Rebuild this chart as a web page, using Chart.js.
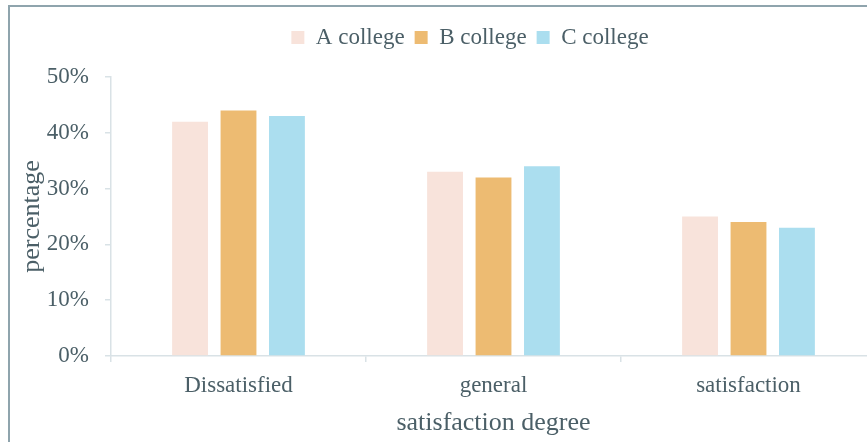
<!DOCTYPE html>
<html>
<head>
<meta charset="utf-8">
<script src="https://cdn.jsdelivr.net/npm/chart.js@4"></script>
<style>
  html, body { margin: 0; padding: 0; background: #fff; overflow: hidden; }
  #frame {
    position: absolute; left: 8px; top: 5px;
    border: 2px solid #8fa4ad;
    width: 920px; height: 445px;
  }
  #myChart { display: block; }
</style>
</head>
<body>
<div id="frame"><canvas id="myChart" width="920" height="445"></canvas></div>
<script>
var categories = ["Dissatisfied", "general", "satisfaction"];
var seriesNames = ["A college", "B college", "C college"];
var aCollege = [42, 33, 25];
var bCollege = [44, 32, 24];
var cCollege = [43, 34, 23];
var yTicks = [0, 10, 20, 30, 40, 50];

var textColor = "#4b5f67";
var lineColor = "#d9e2e6";
var serif = "'Liberation Serif', 'Times New Roman', serif";

var ctx = document.getElementById("myChart").getContext("2d");

var myChart = new Chart(ctx, {
  type: "bar",
  data: {
    labels: categories,
    datasets: [
      { label: seriesNames[0], data: aCollege, backgroundColor: "#f8e3db" },
      { label: seriesNames[1], data: bCollege, backgroundColor: "#edbb72" },
      { label: seriesNames[2], data: cCollege, backgroundColor: "#abdeef" },
    ],
  },
  options: {
    responsive: false,
    animation: false,
    datasets: {
      bar: { categoryPercentage: 0.57, barPercentage: 0.74 },
    },
    layout: { padding: { top: 9, left: 0, right: 0, bottom: 0 } },
    scales: {
      x: {
        grid: { display: true, drawOnChartArea: false, tickLength: 6, color: lineColor, lineWidth: 1.5 },
        border: { color: lineColor, width: 1.5 },
        ticks: { color: textColor, font: { family: serif, size: 23 }, padding: 10 },
        title: {
          display: true,
          text: "satisfaction degree",
          color: textColor,
          font: { family: serif, size: 26 },
          padding: { top: 4, bottom: 13 },
        },
        afterFit: function (s) { s.height = 96; },
      },
      xTop: {
        position: "top",
        grid: { display: false },
        border: { display: false },
        ticks: { display: false },
        afterFit: function (s) { s.height = 18; },
      },
      y: {
        min: 0,
        max: 50,
        afterBuildTicks: function (s) {
          s.ticks = yTicks.map(function (v) { return { value: v }; });
        },
        grid: { display: true, drawOnChartArea: false, tickLength: 6, color: lineColor, lineWidth: 1.5 },
        border: { color: lineColor, width: 1.5 },
        ticks: {
          color: textColor,
          font: { family: serif, size: 23 },
          padding: 16,
          callback: function (v) { return v + "%"; },
        },
        title: {
          display: true,
          text: "percentage",
          color: textColor,
          font: { family: serif, size: 26 },
          padding: { top: 7, bottom: 4 },
        },
        afterFit: function (s) { s.width = 101; },
      },
      yRight: {
        position: "right",
        grid: { display: false },
        border: { display: false },
        ticks: { display: false },
        afterFit: function (s) { s.width = 54; },
      },
    },
    plugins: {
      legend: {
        position: "top",
        labels: {
          color: textColor,
          font: { family: serif, size: 23 },
          boxWidth: 13,
          boxHeight: 13,
          padding: 10,
        },
      },
      tooltip: { enabled: false },
    },
  },
});
</script>
</body>
</html>
